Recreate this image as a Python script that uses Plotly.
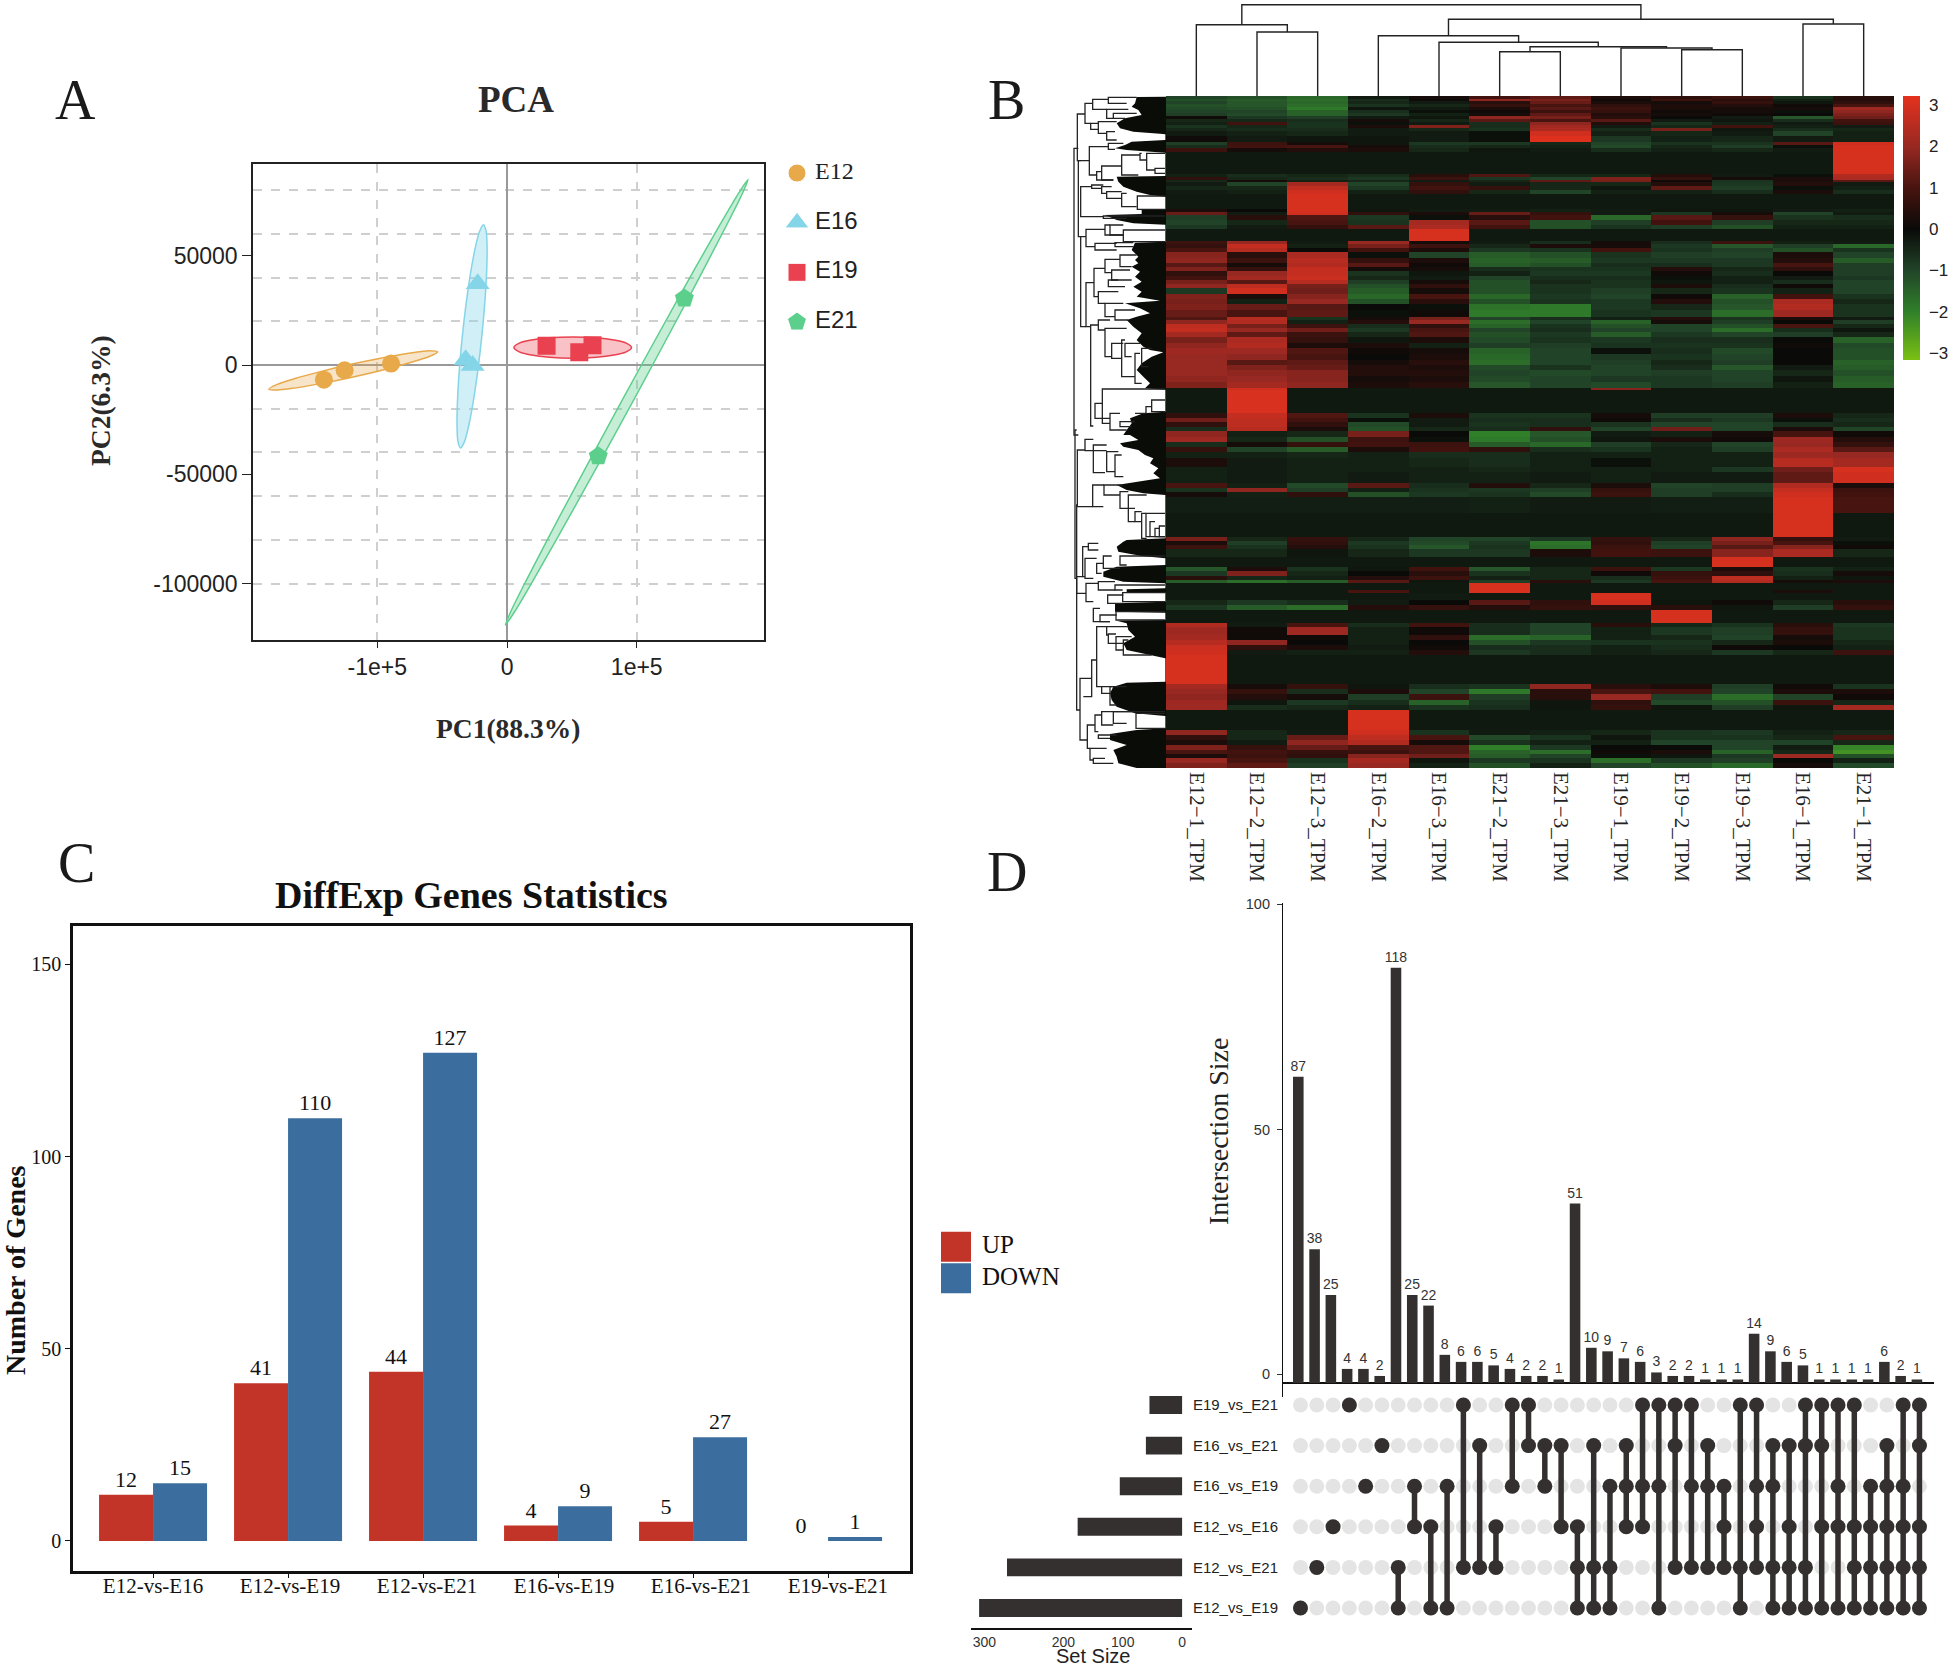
import plotly.graph_objects as go

W, H = 1952, 1668
SERIF = "Liberation Serif"
SANS = "Liberation Sans"

# ---------- Panel A: PCA ----------
PCA_GROUPS = ["E12", "E16", "E19", "E21"]
PCA_COLORS = ["#E8A94B", "#85D5E8", "#E9414F", "#5DCF8D"]
PCA_FILLS = ["rgba(232,169,75,0.30)", "rgba(133,213,232,0.38)", "rgba(233,65,79,0.32)", "rgba(93,207,141,0.35)"]
PCA_SYMBOLS = ["circle", "triangle-up", "square", "pentagon"]
PC1 = {"E12": [-141150, -125200, -89400], "E16": [-22600, -31900, -26500],
       "E19": [30500, 55700, 65900], "E21": [136700, 70350]}
PC2 = {"E12": [-6700, -2400, 650], "E16": [37150, 2400, -200],
       "E19": [8850, 5800, 9070], "E21": [30450, -41700]}
ELL_X = {
    "E12": [-183600, -177100, -164100, -144600, -118550, -92500, -73000, -60000, -53500, -60000, -73000, -92500, -118550, -144600, -164100, -177100, -183600],
    "E16": [-35800, -32710, -29530, -24875, -19450, -16025, -15370, -16070, -18100, -21190, -24370, -29025, -34450, -37875, -38530, -37830, -35800],
    "E19": [5300, 9835, 18900, 32500, 50650, 68800, 82400, 91500, 96000, 91500, 82400, 68800, 50650, 32500, 18900, 9835, 5300],
    "E21": [-1300, 5813, 20050, 49285, 96650, 142835, 169730, 181687, 185800, 178687, 164450, 135215, 87850, 41665, 14770, 2813, -1300],
}
ELL_Y = {
    "E12": [-11000, -8850, -6300, -3135, 525, 3685, 5630, 6500, 6050, 3900, 1350, -1815, -5475, -8635, -10580, -11450, -11000],
    "E16": [-38000, -34940, -27785, -12460, 13075, 38610, 53935, 61090, 64150, 61090, 53935, 38610, 13075, -12460, -27785, -34940, -38000],
    "E19": [8000, 10120, 11470, 12460, 12860, 12460, 11470, 10120, 8000, 5880, 4530, 3540, 3140, 3540, 4530, 5880, 8000],
    "E21": [-119000, -112883, -98610, -68025, -17050, 33925, 64510, 78783, 84900, 78783, 64510, 33925, -17050, -68025, -98610, -112883, -119000],
}
PCA_MINOR_GRID = [80000, 60000, 40000, 20000, -20000, -40000, -60000, -80000, -100000]

# ---------- Panel B: heatmap ----------
HEAT_COLUMNS = ["E12−1_TPM", "E12−2_TPM", "E12−3_TPM", "E16−2_TPM", "E16−3_TPM", "E21−2_TPM",
                "E21−3_TPM", "E19−1_TPM", "E19−2_TPM", "E19−3_TPM", "E16−1_TPM", "E21−1_TPM"]
b = -0.25
HEAT_ROW_END = [
 3,5,8,11,14,17,20,23,26,29,32,35,40,46,49,52,56,78,81,84,86,90,94,98,113,116,119,124,129,133,145,
 148,152,156,162,167,171,175,180,184,188,192,198,203,208,214,221,224,228,232,236,241,247,252,258,264,
 269,274,280,286,292,294,317,322,326,331,335,341,346,351,356,362,371,376,387,392,396,401,417,441,445,449,
 453,461,471,475,480,484,487,494,497,504,509,514,527,531,539,544,549,554,559,588,593,598,604,609,614,634,
 639,644,649,654,658,662,667,672]
HEAT_Z = [
 [-1.0,-1.2,-1.6,-.3,.2,.9,1.3,.3,.6,.8,-.7,.5],
 [-1.2,-1.4,-1.7,-.6,.1,1.9,1.6,.1,.8,.5,-.4,.4],
 [-1.0,-1.3,-1.6,-.5,-.3,.5,1.4,.3,.2,.7,-.2,.6],
 [-1.2,-1.3,-1.7,-.7,-.5,.7,1.0,.6,.3,.4,.1,1.0],
 [-1.1,-1.2,-1.9,-.2,-.3,.3,1.2,.8,.3,.2,.2,2.1],
 [-1.0,-1.0,-1.5,-.6,-.1,.1,.8,.7,.1,.2,-.1,1.9],
 [-.9,-1.1,-1.5,-.8,-.4,.2,1.3,.4,.2,.1,.0,1.7],
 [.1,-.8,-.9,-.3,-.2,1.9,1.6,.5,.0,-.3,-1.3,1.5],
 [-.5,-.5,-.6,.2,-.5,1.2,1.0,1.2,-.3,-.2,-.6,.9],
 [-.4,.9,-.7,-.1,-.3,-.6,1.9,.4,-.7,-.4,-.3,.8],
 [-.7,-.5,-.7,.3,1.7,-.6,2.2,-.3,-.5,.9,-.4,-.3],
 [-.5,-.6,-.6,-.3,-.5,-.7,2.3,-.6,1.6,-.2,-.6,-.5],
 [-.3,-.4,-.5,-.3,-.3,-.1,2.9,-.4,-.5,-.3,-1.0,-.4],
 [.1,-.3,-.2,-.2,-.3,-.1,3.1,-.8,-.4,-.5,-.3,-.4],
 [-.9,.8,.2,-.2,-.8,-.8,-.5,-1.0,-.7,-.7,1.2,2.9],
 [-.6,.9,1.0,.2,-.6,-.5,-.4,-1.1,-.5,-.9,-.1,3],
 [.8,.2,.4,.3,-.5,-.2,-.3,-.6,-.4,-.5,-.3,3],
 [b,b,b,b,b,b,b,b,b,b,b,3],
 [-.4,-.6,-.5,-.6,.5,1.1,-.5,-.5,.4,-.3,-.1,2.4],
 [.6,-.5,-.6,-.8,.8,-.8,-1.0,1.7,.7,.2,.3,2.3],
 [-.5,.2,-.4,-.5,-.3,-.5,1.3,1.6,.1,-.7,.3,1.2],
 [-.3,-1.0,2.2,-1.0,.7,-.3,-.5,-.5,.4,-.8,.4,-.3],
 [-.5,-.5,2.6,-.8,.9,.7,-.5,-.2,1.3,-.9,-.1,-.4],
 [-.3,-.4,2.9,-.4,.6,-.5,-1.0,-.4,-.4,-.6,.3,-.6],
 [b,b,3,b,b,b,b,b,b,b,b,b],
 [.3,.0,3,-.2,-.3,-.3,-.4,-.3,-.2,-.2,-.3,-.4],
 [1.4,-.3,2.9,.6,.3,1.4,.7,-.3,-.8,.2,-1.0,-.3],
 [-.9,.5,1.1,-.8,-.1,.5,.9,-1.6,1.2,.7,-.7,-.6],
 [-1.0,-.5,1.0,-.7,2.2,1.2,-1.2,-.9,.9,-.9,-.5,-.5],
 [-.8,-.3,.7,1.2,2.3,.9,-1.2,-.7,-.9,-1.2,-.4,-.4],
 [b,b,b,b,3,b,b,b,b,b,b,b],
 [.8,2.0,-.3,2.0,.2,-.3,-.6,.2,-.6,.8,-.4,-.3],
 [.7,2.7,-.4,1.6,.8,-.5,.3,.2,-.8,-1.3,-.9,-1.6],
 [1.0,2.5,.0,.9,.3,-.8,-.7,.9,-.7,-.9,-1.2,-.7],
 [1.8,.5,2.3,-.1,-1.0,-1.4,-1.2,-.7,-.9,-1.0,.3,-1.0],
 [1.9,.8,2.5,.7,.3,-1.5,-1.4,-.8,-.8,-.8,.4,-1.4],
 [1.2,.2,2.4,1.2,.1,-1.4,-1.2,-.6,-.6,-.8,1.0,-.9],
 [1.7,.7,2.7,.2,.2,-.6,-.7,-.7,.4,-.5,.6,-.9],
 [.6,2.0,2.7,-.7,-.2,-.4,-.8,-.8,.1,-.6,.0,-.9],
 [.9,2.2,2.8,-.5,-.3,-1.0,-.6,-.6,-.1,-.4,-.3,-.8],
 [1.6,1.2,2.5,-.9,.2,-1.2,-.5,-.7,-.2,-.4,-.6,-1.0],
 [1.9,2.6,1.6,-1.2,.6,-1.2,-.7,-.7,.3,-.6,.1,-1.0],
 [-.8,2.9,1.5,-1.4,.2,-1.2,-.7,-.9,-.5,-.7,-.4,-1.0],
 [1.7,.3,1.8,-1.6,1.0,-1.6,-.8,-1.0,.1,-1.5,.9,-.7],
 [1.6,-.4,2.0,-1.2,.5,-1.2,-.7,-.8,.4,-1.2,2.3,-.5],
 [1.7,1.4,1.2,.0,-.1,-1.8,-1.9,-.8,-.5,-1.3,2.4,-.7],
 [1.4,1.0,1.3,-.1,.1,-1.9,-1.9,-.7,-.8,-1.7,2.1,-.7],
 [1.1,2.5,-.7,.2,1.6,-1.0,-.6,-.4,.4,-.7,.3,-.3],
 [1.9,2.4,-.4,.4,2.0,-1.7,-1.0,-1.5,.2,-.9,.0,-.9],
 [2.6,1.6,.8,-.6,.6,-1.5,-.7,-1.2,-1.0,-1.2,1.0,-.5],
 [2.7,2.0,1.5,-.8,1.0,-1.0,-.6,-1.0,-1.0,-1.7,-.6,-.2],
 [2.2,1.3,.8,-.5,1.1,-1.2,-.8,-1.4,-.8,-1.0,-.9,-.5],
 [1.6,2.3,.7,-.2,.3,-1.1,-.7,-.8,-.6,-.6,.0,-1.5],
 [1.9,2.4,.3,.3,-.4,-.9,-.9,-.7,-.7,-.7,.1,-1.1],
 [2.1,2.1,1.1,.1,.2,-1.5,-1.0,-.1,-.6,-1.1,.0,-1.2],
 [2.0,1.9,1.0,.0,.3,-1.6,-1.0,-.8,-.7,-1.0,.0,-1.2],
 [2.0,1.2,1.3,.2,.5,-1.7,-1.0,-.9,-.5,-.9,.0,-1.5],
 [2.0,1.7,1.4,.4,.3,-1.1,-.7,-1.0,-.6,-1.3,-.3,-1.4],
 [2.0,1.9,1.8,.4,.4,-1.0,-1.1,-1.0,-.9,-1.0,-.5,-1.2],
 [1.9,2.0,1.8,.2,.3,-1.1,-1.0,-.8,-.8,-1.0,-.2,-1.4],
 [1.7,2.2,1.9,.3,.5,-1.3,-1.0,-1.1,-.8,-.9,-.4,-1.5],
 [b,2.9,b,b,b,b,b,1.8,b,b,b,b],
 [b,3.05,b,b,b,b,b,b,b,b,b,b],
 [.6,2.7,1.1,-.7,.3,-.7,-.7,.2,-.9,-.9,.3,-.5],
 [1.5,2.6,.9,-.1,-.3,-.6,-.6,.1,-.6,-.8,-.1,-.6],
 [.6,2.6,.6,-1.1,-.3,-.7,-.6,-.7,-1.0,-1.0,-.6,-.5],
 [-.6,2.5,.3,-1.2,-.5,-.6,.6,-1.0,1.5,-1.0,.3,-1.0],
 [1.9,-.4,-.5,1.6,.0,-2.0,-1.3,-.3,-.4,.2,1.0,.1],
 [2.1,-.5,-1.2,.8,-.1,-1.9,-1.2,-.2,.3,.1,2.1,.4],
 [-.6,.2,.7,.9,.8,-1.4,-1.6,-.9,-.5,-1.0,2.0,.7],
 [.7,-1.0,-1.4,.3,.9,.6,-.6,-.7,-.4,-.9,2.3,1.2],
 [-.4,-.4,-.5,-.4,-.6,-.6,-.4,-.4,-.4,-.4,2.1,2.0],
 [.3,-.3,-.4,-.4,-.5,-.6,-.4,-.1,-.4,-.4,2.5,2.2],
 [-.4,-.3,-.4,-.4,-.4,-.5,-.4,-.4,-.4,-.8,1.5,3.0],
 [-.4,-.3,-.4,-.3,-.4,-.4,-.3,-.4,-.3,-.3,1.3,2.9],
 [1.0,-.4,-1.1,1.2,-.6,.4,-.5,.3,-1.0,-.9,2.4,.3],
 [-.7,1.9,-.9,-.4,-.7,-.8,-.9,.7,-.9,-.9,2.7,.8],
 [.2,-.4,.6,-1.2,-.8,-.7,-1.1,.8,-.9,-.6,2.9,.9],
 [-.35,-.35,-.35,-.35,-.35,-.4,-.3,-.3,-.35,-.35,3,1.0],
 [b,b,b,b,b,b,b,b,b,b,3,b],
 [1.6,-.5,.7,-.5,-1.0,-1.0,-.8,.7,-.5,1.9,.7,-.3],
 [.3,-.9,.6,-.8,-1.1,-.8,-1.8,.6,-.9,1.6,1.0,-.1],
 [.8,-.7,.4,-.7,-1.3,-.7,-1.7,.8,-1.0,1.2,1.8,.1],
 [-.5,-.5,-.2,-.5,-.8,-.8,.3,.9,.8,1.8,2.3,-.5],
 [b,b,b,b,b,b,b,b,b,3,b,b],
 [-1.3,.3,-.7,-.2,.9,-1.3,-.5,.8,-.8,.3,-.7,-.4],
 [-.8,1.7,-.5,.0,.5,-.7,-.5,.1,.7,.6,-.6,.2],
 [.5,-.5,-.4,.4,.8,-.4,-.5,-.6,.8,2.6,-.4,-.2],
 [-1.4,-1.7,-1.4,1.2,-.2,-.9,.5,-.8,1.0,2.4,.2,.3],
 [b,b,b,b,b,3,b,b,b,b,b,b],
 [b,b,b,1.0,b,3,b,b,b,b,.3,b],
 [b,b,b,b,-.3,b,b,3,b,b,b,b],
 [-.5,-.8,-.6,-.3,.0,1.2,.6,2.9,-.2,.1,-.5,.5],
 [-.8,-1.4,-1.7,.4,.7,.4,.7,.6,.5,-.2,-.9,.7],
 [b,b,b,b,b,b,b,b,3,b,b,b],
 [2.4,-.3,1.0,-.6,.9,-.6,-1.0,.5,-.5,-.7,.5,-.8],
 [2.1,.1,2.1,-.4,.1,-.6,-1.0,-.4,-.8,-.9,.7,-.7],
 [2.2,.1,.1,-.4,.6,-1.7,-1.5,-.4,-.5,-1.0,.2,-.7],
 [2.5,1.9,.0,-.4,.0,-1.2,-.8,-.7,-.7,-.5,.3,-.5],
 [2.8,.6,.3,-.3,.1,-.6,-.6,-.4,-.6,.1,.0,-.4],
 [2.9,-.3,-.4,-.4,.4,-.8,-.6,-.4,-.5,-.8,-.5,.8],
 [3,b,b,b,b,b,b,b,b,b,b,b],
 [2.2,.2,.7,-.2,-.6,-.7,1.9,.5,.3,-.9,.1,-.7],
 [2.0,.7,-.6,.3,-1.0,-1.9,.5,1.0,.9,-1.0,.3,.3],
 [1.9,.4,.2,-.9,.8,-.9,.5,2.0,-.9,-1.7,-1.0,.1],
 [2.1,-.2,-.8,-.6,-1.5,-.7,-.2,.6,-1.1,-1.2,.8,-.5],
 [2.1,-.6,-.5,-.4,-.7,-.6,-.2,.7,-.2,-.9,-.2,2.2],
 [b,b,b,3,b,b,b,b,b,b,b,b],
 [1.9,-.5,-.3,2.9,-.7,-.3,-.4,-.5,-.7,-.8,-.4,-.5],
 [.6,-.5,1.4,2.6,1.0,-1.1,-.7,-.2,-.7,-.7,-.5,1.0],
 [.3,-.3,1.9,2.4,.2,-.7,-.4,-.4,-1.0,-1.0,-1.0,-.5],
 [1.7,.7,1.4,1.0,1.1,-2.0,-.8,.0,.0,-1.0,-.3,-2.1],
 [1.0,.9,.7,.8,1.1,-1.5,-1.7,.1,.3,-1.5,-.5,-2.3],
 [.3,.8,.6,1.8,1.5,-1.4,-1.0,-.1,-.2,-.8,2.1,-1.2],
 [2.0,1.0,-.7,2.2,-.2,-.8,-.7,-1.7,-.8,-.9,.0,-.4],
 [1.7,1.3,-.9,2.0,-.4,-1.2,-.4,-1.0,-1.2,-1.6,.2,-1.1],
]
HEAT_STOPS = [(-3.17, "rgb(122,192,18)"), (-2, "rgb(48,128,42)"), (-1, "rgb(33,68,40)"), (0, "rgb(10,10,8)"),
              (1, "rgb(72,20,15)"), (2, "rgb(152,40,34)"), (3.22, "rgb(228,50,30)")]

# column dendrogram: (left node, right node, height); nodes 0-11 are leaves, 12+ are earlier merges
TOP_MERGES = [(1, 2, 64), (0, 12, 71.3), (5, 6, 44.3), (8, 9, 46.3), (7, 15, 48), (14, 16, 49.3),
              (4, 17, 53.7), (3, 18, 60.3), (10, 11, 72), (19, 20, 76.7), (13, 21, 91.3)]

# row dendrogram read in two strips: silhouette of the dense part (row mark, edge mark)
SIL_UPPER = [(20,318),(21,230),(40,225),(50,215),(60,235),(75,245),(85,195),(100,170),(115,180),(125,220),(131,300),(133,316),
 (150,316),(155,215),(165,195),(175,165),(180,200),(187,300),(188,316),(258,316),(260,170),(275,175),(290,190),(305,230),(315,270),(320,316),
 (358,316),(360,245),(372,245),(375,135),(390,170),(400,220),(404,316),(455,316),(458,225),(480,215),(500,235),(510,225),(520,235),(530,215),
 (545,240),(560,225),(575,245),(590,220),(605,245),(620,230),(632,300),(640,195),(655,240),(670,270),(680,230),(690,200),(710,220),(730,245),
 (750,230),(770,250),(780,270),(787,310),(800,275),(820,245),(840,230),(860,250),(880,270),(895,255),(899,316),(965,316),(970,250),(985,210),
 (1000,215),(1020,200),(1035,190)]
SIL_LOWER = [(15,210),(30,235),(40,180),(50,190),(60,235),(75,255),(85,280),(100,270),(115,295),(130,280),(145,300),(155,230),(165,170),(180,200),
 (190,250),(195,316),(325,316),(330,200),(335,190),(350,170),(365,175),(378,245),(385,316),(405,316),(410,170),(425,130),(440,130),(455,190),
 (460,316),(475,316),(478,200),(486,200),(488,316),(515,316),(520,165),(545,165),(548,316),(570,316),(572,170),(580,200),(600,205),(620,225),
 (640,190),(660,200),(675,275),(685,316),(755,316),(758,200),(770,160),(790,150),(810,155),(830,170),(850,225),(858,316),(895,316),(900,230),
 (912,150),(930,150),(945,200),(960,160),(980,170),(1000,175),(1014,230)]
# brackets: (stem mark, top row, bottom row, top end mark, bottom end mark)
BRK_UPPER = [(42,175,1035,55,55),(52,72,212,75,88),(75,40,100,98,92),(98,28,58,145,140),(145,22,40,230,200),(140,58,85,205,160),(160,70,85,230,195),
 (92,100,118,115,115),(115,95,130,170,140),(140,125,150,165,170),(88,170,255,145,110),(145,160,178,190,165),(110,245,270,125,160),(125,228,270,185,160),
 (185,195,255,240,235),(240,190,210,245,260),(260,190,240,315,285),(285,235,250,315,315),(62,290,380,95,130),(95,285,295,130,125),(125,290,310,155,140),
 (140,305,325,185,185),(185,310,350,200,230),(232,318,358,315,315),(130,378,385,315,200),(55,212,440,62,62),(62,440,710,78,78),(78,418,470,135,105),
 (135,405,435,150,190),(150,405,435,190,190),(190,420,455,315,315),(105,460,480,170,170),(165,458,470,220,220),(78,578,710,102,90),(102,535,620,135,115),
 (135,508,548,180,155),(180,495,530,230,215),(155,540,570,210,175),(145,570,590,215,195),(115,605,640,175,135),(135,640,680,190,165),(165,660,690,225,205),
 (92,705,1008,115,100),(115,690,720,150,135),(135,715,800,200,155),(155,760,805,190,185),(185,750,860,195,225),(195,760,800,240,215),(225,790,880,240,245),
 (245,775,830,275,265),(105,940,985,127,150),(127,897,1000,315,150),(150,970,1020,180,200),(180,995,1010,225,215),(258,950,970,275,225),(275,930,965,315,315)]
BRK_LOWER = [(45,0,445,50,50),(50,225,840,52,60),(52,60,230,75,98),(75,28,62,100,140),(100,45,128,140,135),(140,65,125,175,165),(165,75,140,185,190),
 (98,165,230,132,130),(132,165,195,190,180),(180,185,235,205,225),(205,195,275,260,225),(225,245,275,245,245),(245,250,325,258,260),(258,250,320,315,270),
 (270,275,320,285,315),(285,295,320,298,315),(298,288,320,315,315),(50,440,490,68,78),(68,350,440,85,75),(85,340,360,115,115),(75,385,445,110,100),
 (110,400,430,130,125),(130,378,415,155,180),(180,378,405,315,200),(78,460,515,115,100),(115,455,480,165,165),(165,465,480,315,188),(188,488,515,315,315),
 (100,535,575,120,150),(120,555,575,170,150),(143,495,520,190,190),(168,545,570,315,315),(60,745,930,95,82),(95,690,800,110,70),(110,590,770,140,125),
 (140,590,615,205,145),(145,612,640,168,190),(168,620,660,215,190),(190,630,675,205,275),(125,770,790,175,150),(150,770,825,200,170),(82,885,955,105,90),
 (105,855,905,125,115),(125,845,885,315,160),(160,845,880,228,200),(228,850,895,315,315),(115,915,925,170,150),(90,955,990,140,100),(100,985,1000,135,160)]

# ---------- Panel C: DEG statistics ----------
DEG_GROUPS = ["E12-vs-E16", "E12-vs-E19", "E12-vs-E21", "E16-vs-E19", "E16-vs-E21", "E19-vs-E21"]
DEG_UP = [12, 41, 44, 4, 5, 0]
DEG_DOWN = [15, 110, 127, 9, 27, 1]
DEG_TICKS = [0, 50, 100, 150]

# ---------- Panel D: UpSet ----------
UPSET_SIZES = [87, 38, 25, 4, 4, 2, 118, 25, 22, 8, 6, 6, 5, 4, 2, 2, 1, 51, 10, 9, 7, 6, 3, 2, 2, 1, 1, 1, 14, 9, 6, 5, 1, 1, 1, 1, 6, 2, 1]
SET_NAMES = ["E12_vs_E19", "E12_vs_E21", "E12_vs_E16", "E16_vs_E19", "E16_vs_E21", "E19_vs_E21"]
SET_SIZES = [342, 295, 176, 105, 61, 55]
MEMBERS = {
    "E19_vs_E21": [3, 10, 13, 14, 21, 22, 23, 24, 27, 28, 31, 32, 33, 34, 37, 38],
    "E16_vs_E21": [5, 11, 14, 15, 16, 18, 20, 23, 25, 29, 30, 31, 32, 36, 38],
    "E16_vs_E19": [4, 7, 9, 13, 15, 19, 20, 21, 22, 24, 25, 26, 28, 29, 33, 35, 36, 37],
    "E12_vs_E16": [2, 7, 8, 12, 16, 17, 20, 21, 26, 28, 30, 32, 33, 34, 35, 36, 37, 38],
    "E12_vs_E21": [1, 6, 10, 11, 12, 17, 18, 19, 23, 24, 25, 26, 27, 28, 29, 30, 31, 34, 35, 36, 37, 38],
    "E12_vs_E19": [0, 6, 8, 9, 17, 18, 19, 22, 27, 29, 30, 31, 32, 33, 34, 35, 36, 37, 38],
}
UPSET_TICK_POS = [2.5, 72, 136]
UPSET_TICK_TEXT = ["0", "50", "100"]
SETSIZE_TICK_POS = [0, 100, 200, 333]
SETSIZE_TICK_TEXT = ["0", "100", "200", "300"]

# ---------- helpers ----------
def dx(x0, x1):
    return [x0 / W, x1 / W]
def dy(y0, y1):
    return [1 - y1 / H, 1 - y0 / H]
fig = go.Figure()
HIDDEN = dict(visible=False, showgrid=False, zeroline=False)

def label(text, x, y, size, family=SERIF, angle=0, color="#1a1a1a"):
    fig.add_annotation(text=text, x=x / W, y=1 - y / H, xref="paper", yref="paper", showarrow=False,
                       xanchor="center", yanchor="middle", textangle=angle, borderpad=0,
                       font=dict(family=family, size=size, color=color))

# ---------- Panel A traces ----------
for g, col, fl in zip(PCA_GROUPS, PCA_COLORS, PCA_FILLS):
    fig.add_trace(go.Scatter(x=ELL_X[g], y=ELL_Y[g], mode="lines", fill="toself", fillcolor=fl,
                             line=dict(color=col, width=1.5, shape="spline", smoothing=0.8), xaxis="x", yaxis="y"))
PCA_SIZES = [18, 21, 18, 20]
for g, col, sym, sz in zip(PCA_GROUPS, PCA_COLORS, PCA_SYMBOLS, PCA_SIZES):
    fig.add_trace(go.Scatter(x=PC1[g], y=PC2[g], mode="markers", marker=dict(color=col, size=sz, symbol=sym),
                             xaxis="x", yaxis="y", name=g))
# PCA key
fig.add_trace(go.Scatter(x=[0] * 4, y=PCA_GROUPS, mode="markers", xaxis="x2", yaxis="y2",
                         marker=dict(color=PCA_COLORS, size=PCA_SIZES, symbol=PCA_SYMBOLS, opacity=1)))
fig.add_trace(go.Scatter(x=[18] * 4, y=PCA_GROUPS, mode="text", text=PCA_GROUPS, textposition="middle right", xaxis="x2", yaxis="y2",
                         textfont=dict(size=24, color="#222", family=[SERIF, SANS, SANS, SANS])))

# ---------- Panel B traces ----------
zlo, zhi = HEAT_STOPS[0][0], HEAT_STOPS[-1][0]
fig.add_trace(go.Heatmap(
    z=HEAT_Z, x=list(range(12)), y=[0] + HEAT_ROW_END, xaxis="x3", yaxis="y3", zmin=zlo, zmax=zhi,
    colorscale=[[(v - zlo) / (zhi - zlo), c] for v, c in HEAT_STOPS], xgap=0, ygap=0,
    colorbar=dict(x=1903 / W, xanchor="left", y=1 - 96 / H, yanchor="top", len=263.5, lenmode="pixels", thickness=17,
                  thicknessmode="pixels", xpad=0, ypad=0, outlinewidth=0, tickmode="array",
                  tickvals=[-3, -2, -1, 0, 1, 2, 3], ticks="outside", ticklen=6, tickcolor="rgba(0,0,0,0)",
                  tickfont=dict(family=SANS, size=17, color="#222"))))
# column dendrogram
pos = {i: (float(i), 0.0) for i in range(12)}
tx, ty = [], []
for k, (l, r, h) in enumerate(TOP_MERGES):
    xl, hl = pos[l]
    xr, hr = pos[r]
    tx += [xl, xl, xr, xr, None]
    ty += [hl, h, h, hr, None]
    pos[12 + k] = ((xl + xr) / 2, h)
fig.add_trace(go.Scatter(x=tx, y=ty, mode="lines", line=dict(color="#222", width=1.4), xaxis="x4", yaxis="y4"))
# row dendrogram
def sil(points, offset):
    return [offset + p[0] / 3 for p in points], [106 - p[1] / 3 for p in points]
r1, d1 = sil(SIL_UPPER, -6)
r2, d2 = sil(SIL_LOWER, 334)
fig.add_trace(go.Scatter(x=d1 + d2, y=r1 + r2, mode="lines", fill="tozerox", fillcolor="#0a0c08",
                         line=dict(width=0, color="#0a0c08"), xaxis="x5", yaxis="y5"))
lx, ly = [], []
for group, offset in ((BRK_UPPER, -6), (BRK_LOWER, 334)):
    for st, yt, yb, xt, xb in group:
        lx += [106 - xt / 3, 106 - st / 3, 106 - st / 3, 106 - xb / 3, None]
        ly += [offset + yt / 3, offset + yt / 3, offset + yb / 3, offset + yb / 3, None]
fig.add_trace(go.Scatter(x=lx, y=ly, mode="lines", line=dict(color="#222", width=1.3), xaxis="x5", yaxis="y5"))

# ---------- Panel C traces ----------
for nm, vals, col in (("UP", DEG_UP, "#C23427"), ("DOWN", DEG_DOWN, "#3B6E9E")):
    fig.add_trace(go.Bar(x=DEG_GROUPS, y=vals, name=nm, marker=dict(color=col, line_width=0), text=vals,
                         textposition="outside", cliponaxis=False, constraintext="none",
                         textfont=dict(family=SERIF, size=22, color="#111"), xaxis="x6", yaxis="y6"))
# category names sit on a slightly wider pitch than the bars
fig.add_trace(go.Scatter(x=[0, 5], y=[0, 0], mode="markers", marker=dict(opacity=0), xaxis="x11", yaxis="y6"))
fig.add_trace(go.Scatter(x=[0, 0], y=["UP", "DOWN"], mode="markers", xaxis="x7", yaxis="y7",
                         marker=dict(symbol="square", size=30, color=["#C23427", "#3B6E9E"], line_width=0)))
fig.add_trace(go.Scatter(x=[26, 26], y=["UP", "DOWN"], mode="text", text=["UP", "DOWN"], textposition="middle right",
                         textfont=dict(family=SERIF, size=25, color="#111"), xaxis="x7", yaxis="y7"))

# ---------- Panel D traces ----------
n_int = len(UPSET_SIZES)
fig.add_trace(go.Bar(x=list(range(n_int)), y=UPSET_SIZES, text=UPSET_SIZES, textposition="outside", cliponaxis=False,
                     constraintext="none", width=0.65, marker=dict(color="#353030", line_width=0),
                     textfont=dict(family=SANS, size=14, color="#333"), xaxis="x8", yaxis="y8"))
gx, gy = [], []
for s in SET_NAMES:
    gx += list(range(n_int))
    gy += [s] * n_int
fig.add_trace(go.Scatter(x=gx, y=gy, mode="markers", marker=dict(color="#E4E4E4", size=15), xaxis="x9", yaxis="y9"))
sx, sy = [], []
for i in range(n_int):
    rows = [j for j, s in enumerate(SET_NAMES) if i in MEMBERS[s]]
    if len(rows) > 1:
        sx += [i, i, None]
        sy += [SET_NAMES[min(rows)], SET_NAMES[max(rows)], None]
fig.add_trace(go.Scatter(x=sx, y=sy, mode="lines", line=dict(color="#353030", width=5.5), xaxis="x9", yaxis="y9"))
mx, my = [], []
for s in SET_NAMES:
    mx += MEMBERS[s]
    my += [s] * len(MEMBERS[s])
fig.add_trace(go.Scatter(x=mx, y=my, mode="markers", marker=dict(color="#353030", size=15), xaxis="x9", yaxis="y9"))
fig.add_trace(go.Bar(x=SET_SIZES, y=SET_NAMES, orientation="h", width=0.44, marker=dict(color="#353030", line_width=0), xaxis="x10", yaxis="y10"))

for s in SET_NAMES[0::2]:
    fig.add_shape(type="rect", xref="x9 domain", yref="y9", x0=0, x1=1,
                  y0=SET_NAMES.index(s) - 0.5, y1=SET_NAMES.index(s) + 0.5,
                  fillcolor="#F5F5F5", line_width=0, layer="below")

# ---------- Layout ----------
layout = dict(
    width=W, height=H, margin=dict(l=0, r=0, t=0, b=0, autoexpand=False), paper_bgcolor="white", plot_bgcolor="white",
    showlegend=False, barmode="group", bargap=0.2, bargroupgap=0,
    xaxis=dict(domain=dx(253, 763.5), range=[-195800, 197700], tickmode="array", tickvals=[-100000, 0, 100000],
               ticktext=["-1e+5", "0", "1e+5"], showgrid=True, gridcolor="#CFCFCF", griddash="dash", gridwidth=1.5,
               zeroline=True, zerolinecolor="#999999", zerolinewidth=2, showline=True, mirror=True, linecolor="#222", linewidth=1.5,
               ticks="outside", ticklen=6, tickcolor="#222", tickfont=dict(family=SANS, size=23, color="#222"), anchor="y"),
    yaxis=dict(domain=dy(164, 640), range=[-125800, 91950], tickmode="array", tickvals=[50000, 0, -50000, -100000],
               ticktext=["50000", "0", "-50000", "-100000"], showgrid=False, zeroline=True, zerolinecolor="#999999", zerolinewidth=2,
               showline=True, mirror=True, linecolor="#222", linewidth=1.5, ticks="outside", ticklen=9, tickcolor="#222",
               minor=dict(tickmode="array", tickvals=PCA_MINOR_GRID, showgrid=True, gridcolor="#CFCFCF", griddash="dash", gridwidth=1.5, ticks=""),
               tickfont=dict(family=SANS, size=23, color="#222"), anchor="x"),
    xaxis2=dict(domain=dx(785, 905), range=[-12, 108], anchor="y2", **HIDDEN),
    yaxis2=dict(domain=dy(148.2, 346.8), range=[3.5, -0.5], type="category", categoryorder="array", categoryarray=PCA_GROUPS, anchor="x2", **HIDDEN),
    xaxis3=dict(domain=dx(1166, 1894), range=[-0.5, 11.5], tickmode="array", tickvals=list(range(12)), ticktext=HEAT_COLUMNS,
                tickangle=90, ticks="", ticklabelstandoff=3, showgrid=False, zeroline=False,
                tickfont=dict(family=SERIF, size=21, color="#222"), anchor="y3"),
    yaxis3=dict(domain=dy(96, 768), range=[672, 0], anchor="x3", **HIDDEN),
    xaxis4=dict(domain=dx(1166, 1894), range=[-0.5, 11.5], anchor="y4", **HIDDEN),
    yaxis4=dict(domain=dy(0, 96), range=[0, 96], anchor="x4", **HIDDEN),
    xaxis5=dict(domain=dx(1060, 1166), range=[106, 0], anchor="y5", **HIDDEN),
    yaxis5=dict(domain=dy(96, 768), range=[672, 0], anchor="x5", **HIDDEN),
    xaxis6=dict(domain=dx(73, 910), range=[-0.593, 5.607], type="category", categoryorder="array", categoryarray=DEG_GROUPS,
                showline=True, mirror=True, linecolor="#111", linewidth=2.5, ticks="outside", ticklen=5, tickcolor="#111", showgrid=False,
                zeroline=False, showticklabels=False, anchor="y6"),
    xaxis11=dict(overlaying="x6", range=[-0.584, 5.526], tickmode="array", tickvals=list(range(6)), ticktext=DEG_GROUPS,
                 ticks="", showline=False, showgrid=False, zeroline=False,
                 tickfont=dict(family=SERIF, size=21, color="#111"), anchor="y6", side="bottom"),
    yaxis6=dict(domain=dy(926, 1570.5), range=[-7.7, 160], tickmode="array", tickvals=DEG_TICKS, showline=True, mirror=True,
                linecolor="#111", linewidth=2.5, ticks="outside", ticklen=5, tickcolor="#111", showgrid=False, zeroline=False,
                tickfont=dict(family=SERIF, size=20, color="#111"), anchor="x6"),
    xaxis7=dict(domain=dx(930, 1090), range=[-26, 134], anchor="y7", **HIDDEN),
    yaxis7=dict(domain=dy(1231, 1294), range=[1.5, -0.5], type="category", categoryorder="array", categoryarray=["UP", "DOWN"], anchor="x7", **HIDDEN),
    xaxis8=dict(domain=dx(1283, 1934), range=[-0.94, 39.05], anchor="y8", **HIDDEN),
    yaxis8=dict(domain=dy(903, 1397), range=[-3.98, 136.4], tickmode="array", tickvals=UPSET_TICK_POS, ticktext=UPSET_TICK_TEXT,
                showline=True, linecolor="#111", linewidth=1.2, ticks="outside", ticklen=5, tickcolor="#333", showgrid=False, ticklabelstandoff=4,
                zeroline=True, zerolinecolor="#111", zerolinewidth=2, tickfont=dict(family=SANS, size=14.5, color="#333"), anchor="x8"),
    xaxis9=dict(domain=dx(1283, 1934.6), range=[-1.074, 38.93], anchor="y9", **HIDDEN),
    yaxis9=dict(domain=dy(1384.7, 1628.3), range=[-0.5, 5.5], type="category", categoryorder="array", categoryarray=SET_NAMES,
                ticks="", showgrid=False, zeroline=False, showline=False, ticklabelstandoff=4, tickfont=dict(family=SANS, size=15, color="#222"), anchor="x9"),
    xaxis10=dict(domain=dx(970.8, 1191.6), range=[356, -16], tickmode="array", tickvals=SETSIZE_TICK_POS, ticktext=SETSIZE_TICK_TEXT,
                 showline=True, linecolor="#111", linewidth=2, ticks="", showgrid=False, zeroline=False,
                 tickfont=dict(family=SANS, size=14, color="#333"), anchor="y10"),
    yaxis10=dict(domain=dy(1384.7, 1628.3), range=[-0.5, 5.5], type="category", categoryorder="array", categoryarray=SET_NAMES, anchor="x10", **HIDDEN),
)
fig.update_layout(**layout)
fig.update_traces(hoverinfo="skip")

# ---------- Text ----------
label("A", 75, 100, 56)
label("B", 1007, 100, 56)
label("C", 76, 863, 56)
label("D", 1007, 872, 56)
label("<b>PCA</b>", 515.5, 100, 37, color="#2a2a2a")
label("<b>PC1(88.3%)</b>", 508, 729, 27.5, color="#2a2a2a")
label("<b>PC2(6.3%)</b>", 100, 401, 27.5, angle=-90, color="#2a2a2a")
label("<b>DiffExp Genes Statistics</b>", 471, 895, 38, color="#111")
label("<b>Number of Genes</b>", 15, 1270, 28, angle=-90, color="#111")
label("Intersection Size", 1218, 1132, 28, color="#222", angle=-90)
label("Set Size", 1093, 1656, 20, family=SANS, color="#222")

fig.write_html("out.html", config={"displayModeBar": False},
               post_script="document.body.style.margin='0';document.body.style.overflow='hidden';")
